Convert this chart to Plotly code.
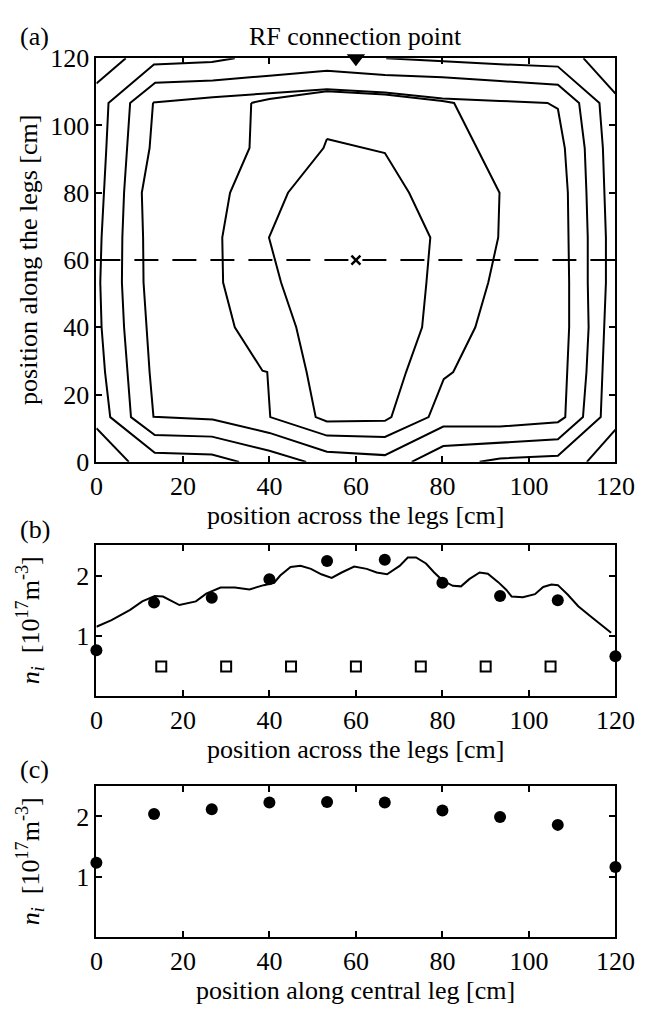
import plotly.graph_objects as go

# ---------------- Panel (a): contour lines ----------------
corner_tl_x = [0, 6.8];      corner_tl_y = [112.5, 120]
corner_tr_x = [112.6, 120];  corner_tr_y = [120, 109.5]
corner_bl_x = [0, 7.5];      corner_bl_y = [10.0, 0]
corner_br_x = [113.4, 120];  corner_br_y = [0, 9.6]

level_a_left_x = [32, 26.7, 13.3, 2.8, 2.3, 1.8, 1.2, 0.9, 1.2, 2.0, 3.2, 13.5, 26.7, 33]
level_a_left_y = [120, 118.9, 118.1, 106.7, 93.3, 80, 66.7, 53.3, 40, 26.7, 13.3, 2.7, 2.2, 0]
level_a_right_x = [67, 80, 93.3, 106.7, 116.3, 117.1, 117.5, 117.8, 117.8, 117.4, 117.0, 116.6, 106.7, 93.3, 88.6]
level_a_right_y = [120, 119, 118.2, 117.5, 106.7, 93.3, 80, 66.7, 53.3, 40, 26.7, 13.3, 1.8, 1.0, 0]

level_b_x = [48.5, 40, 26.7, 13.5, 8.0, 7.2, 6.4, 5.9, 6.0, 6.4, 7.1, 7.8, 13.6, 26.9, 40, 53.3,
             66.7, 80, 93.3, 106.7, 111.6, 112.9, 113.3, 113.6, 113.6, 113.8, 113.3, 112.5, 106.7,
             93.3, 80.2, 72.9]
level_b_y = [0, 3.3, 7.5, 8.0, 13.3, 26.7, 40, 53.3, 66.7, 80, 93.3, 106.7, 112.7, 113.4, 114.8, 116.3,
             115.0, 114.3, 113.2, 112.1, 106.7, 93.3, 80, 66.7, 53.3, 40, 26.7, 13.3, 6.7,
             5.8, 4.7, 0]

level_c_x = [13.1, 26.9, 40, 53.3, 66.7, 80, 93.3, 104.3, 106.7, 108.3, 109.0, 109.2, 109.3, 109.3,
             108.8, 108.4, 106.7, 93.3, 80.2, 66.7, 53.3, 40, 26.9, 13.2, 12.3, 11.6, 10.9, 10.8,
             10.5, 12.3, 13.1]
level_c_y = [106.8, 108.4, 109.6, 110.8, 109.8, 108.0, 107.3, 106.7, 104.9, 93.3, 80, 66.7, 53.3, 40,
             26.7, 13.3, 11.8, 10.5, 10.5, 2.0, 3.0, 8.6, 12.6, 13.4, 26.7, 40, 53.3, 66.7,
             80, 93.3, 106.8]

level_d_x = [35.8, 35.4, 30.9, 29.1, 29.3, 32.0, 38.4, 39.5, 40.2, 53.3, 66.7, 76.8, 80.3, 82.5,
             87.6, 90.6, 92.9, 93.2, 82.7, 80, 66.7, 53.3, 40, 35.8]
level_d_y = [106.7, 93.3, 80, 66.7, 53.3, 40, 27.1, 26.7, 13.3, 7.8, 7.4, 13.3, 24.6, 26.7,
             40, 53.3, 66.7, 80, 106.7, 107.3, 109.2, 110.2, 107.9, 106.7]

level_e_x = [53.3, 60, 66.7, 72.3, 77.2, 76.3, 75.3, 71.6, 68.2, 66.7, 53.3, 50.7, 48.6, 46.2,
             42.7, 39.9, 44.3, 52.5, 53.3]
level_e_y = [96.0, 94.0, 91.8, 80, 66.7, 53.3, 40, 26.7, 13.3, 12.2, 12.0, 13.3, 26.7, 40,
             53.3, 66.7, 80, 93.3, 96.0]

contours = [
    (corner_tl_x, corner_tl_y), (corner_tr_x, corner_tr_y),
    (corner_bl_x, corner_bl_y), (corner_br_x, corner_br_y),
    (level_a_left_x, level_a_left_y), (level_a_right_x, level_a_right_y),
    (level_b_x, level_b_y), (level_c_x, level_c_y),
    (level_d_x, level_d_y), (level_e_x, level_e_y),
]

probe_line_x = [0, 120]
probe_line_y = [60, 60]
probe_point_x = [60]
probe_point_y = [60]
rf_point_x = [60]
rf_point_y = [120]

# ---------------- Panel (b) ----------------
b_circle_x = [0, 13.33, 26.67, 40, 53.33, 66.67, 80, 93.33, 106.67, 120]
b_circle_y = [0.76, 1.55, 1.63, 1.94, 2.24, 2.26, 1.88, 1.66, 1.59, 0.66]
b_square_x = [15, 30, 45, 60, 75, 90, 105]
b_square_y = [0.49, 0.49, 0.49, 0.49, 0.49, 0.49, 0.49]
b_line_x = [0, 3.5, 7.8, 10.6, 13.5, 15.4, 19.2, 23, 25.4, 28.7, 32, 35.4, 38.7, 41.1, 42.5, 44.9,
            47.2, 49.6, 52, 54.4, 56.7, 59.6, 62.5, 64.8, 67.2, 70.1, 72, 73.9, 76.2, 78.1, 80,
            82.4, 84.3, 86.2, 88.6, 90.5, 92.9, 94.8, 96, 98.6, 101.4, 103.3, 105.2, 106.7, 109,
            111.4, 114.3, 117.1, 119]
b_line_y = [1.15, 1.26, 1.43, 1.57, 1.66, 1.65, 1.51, 1.57, 1.70, 1.80, 1.80, 1.77, 1.84, 1.88, 2.00,
            2.14, 2.16, 2.11, 2.02, 1.96, 2.05, 2.15, 2.11, 2.05, 2.02, 2.16, 2.30, 2.30, 2.20, 2.05,
            1.92, 1.83, 1.82, 1.94, 2.05, 2.03, 1.89, 1.76, 1.65, 1.64, 1.69, 1.81, 1.85, 1.84, 1.68,
            1.49, 1.32, 1.16, 1.05]

# ---------------- Panel (c) ----------------
c_circle_x = [0, 13.33, 26.67, 40, 53.33, 66.67, 80, 93.33, 106.67, 120]
c_circle_y = [1.23, 2.04, 2.12, 2.23, 2.24, 2.23, 2.10, 1.99, 1.86, 1.16]

x_ticks = [0, 20, 40, 60, 80, 100, 120]
a_y_ticks = [0, 20, 40, 60, 80, 100, 120]
n_ticks = [1, 2]

FONT = "Liberation Serif"
W, H = 670, 1017

fig = go.Figure()

for cx, cy in contours:
    fig.add_trace(go.Scatter(x=cx, y=cy, mode="lines", line=dict(color="black", width=2),
                             xaxis="x", yaxis="y", showlegend=False, hoverinfo="skip"))
fig.add_trace(go.Scatter(x=probe_line_x, y=probe_line_y, mode="lines",
                         line=dict(color="black", width=2, dash="24px,14px"),
                         xaxis="x", yaxis="y", showlegend=False))
fig.add_trace(go.Scatter(x=probe_point_x, y=probe_point_y, mode="markers",
                         marker=dict(symbol="x-thin", size=9, line=dict(color="black", width=2.5)),
                         xaxis="x", yaxis="y", showlegend=False))
fig.add_trace(go.Scatter(x=rf_point_x, y=rf_point_y, mode="markers", cliponaxis=False,
                         marker=dict(symbol="triangle-down", size=16, color="black"),
                         xaxis="x", yaxis="y", showlegend=False))

fig.add_trace(go.Scatter(x=b_line_x, y=b_line_y, mode="lines", line=dict(color="black", width=2),
                         xaxis="x2", yaxis="y2", showlegend=False))
fig.add_trace(go.Scatter(x=b_circle_x, y=b_circle_y, mode="markers", cliponaxis=False,
                         marker=dict(symbol="circle", size=12, color="black"),
                         xaxis="x2", yaxis="y2", showlegend=False))
fig.add_trace(go.Scatter(x=b_square_x, y=b_square_y, mode="markers", cliponaxis=False,
                         marker=dict(symbol="square-open", size=10, color="black",
                                     line=dict(width=2)),
                         xaxis="x2", yaxis="y2", showlegend=False))

fig.add_trace(go.Scatter(x=c_circle_x, y=c_circle_y, mode="markers", cliponaxis=False,
                         marker=dict(symbol="circle", size=12, color="black"),
                         xaxis="x3", yaxis="y3", showlegend=False))

def fy(px):
    return 1 - px / H

def fx(px):
    return px / W

x_dom = [fx(93), fx(633)]
axis_common = dict(showline=True, linewidth=2, linecolor="black", mirror="ticks",
                   ticks="inside", ticklen=6, tickwidth=1.5, tickcolor="black",
                   showgrid=False, zeroline=False,
                   tickfont=dict(family=FONT, size=26, color="black"))

fig.update_layout(
    width=W, height=H, margin=dict(l=0, r=0, t=0, b=0),
    paper_bgcolor="white", plot_bgcolor="white",
    xaxis=dict(domain=x_dom, range=[0, 120], tickvals=x_ticks, anchor="y", **axis_common),
    yaxis=dict(domain=[fy(461), fy(45.5)], range=[0, 120], tickvals=a_y_ticks, anchor="x",
               **axis_common),
    xaxis2=dict(domain=x_dom, range=[0, 120], tickvals=x_ticks, anchor="y2", **axis_common),
    yaxis2=dict(domain=[fy(702), fy(547)], range=[0, 2.5], tickvals=n_ticks, anchor="x2",
                **axis_common),
    xaxis3=dict(domain=x_dom, range=[0, 120], tickvals=x_ticks, anchor="y3", **axis_common),
    yaxis3=dict(domain=[fy(950), fy(795)], range=[0, 2.5], tickvals=n_ticks, anchor="x3",
                **axis_common),
)

ann_font = dict(family=FONT, size=26, color="black")
ni_title = "<i>n</i><sub><i>i</i></sub>  [10<sup>17</sup>m<sup>-3</sup>]"
annotations = [
    dict(text="(a)", x=fx(29), y=fy(23)),
    dict(text="RF connection point", x=fx(363), y=fy(23)),
    dict(text="position across the legs [cm]", x=fx(363), y=fy(516)),
    dict(text="position along the legs [cm]", x=fx(23), y=fy(253), textangle=-90),
    dict(text="(b)", x=fx(29), y=fy(531)),
    dict(text=ni_title, x=fx(24), y=fy(624), textangle=-90),
    dict(text="position across the legs [cm]", x=fx(363), y=fy(757)),
    dict(text="(c)", x=fx(29), y=fy(778)),
    dict(text=ni_title, x=fx(24), y=fy(872), textangle=-90),
    dict(text="position along central leg [cm]", x=fx(363), y=fy(1005)),
]
for a in annotations:
    fig.add_annotation(xref="paper", yref="paper", showarrow=False, font=ann_font,
                       xanchor="center", yanchor="middle", **a)

fig.write_html("out.html")
